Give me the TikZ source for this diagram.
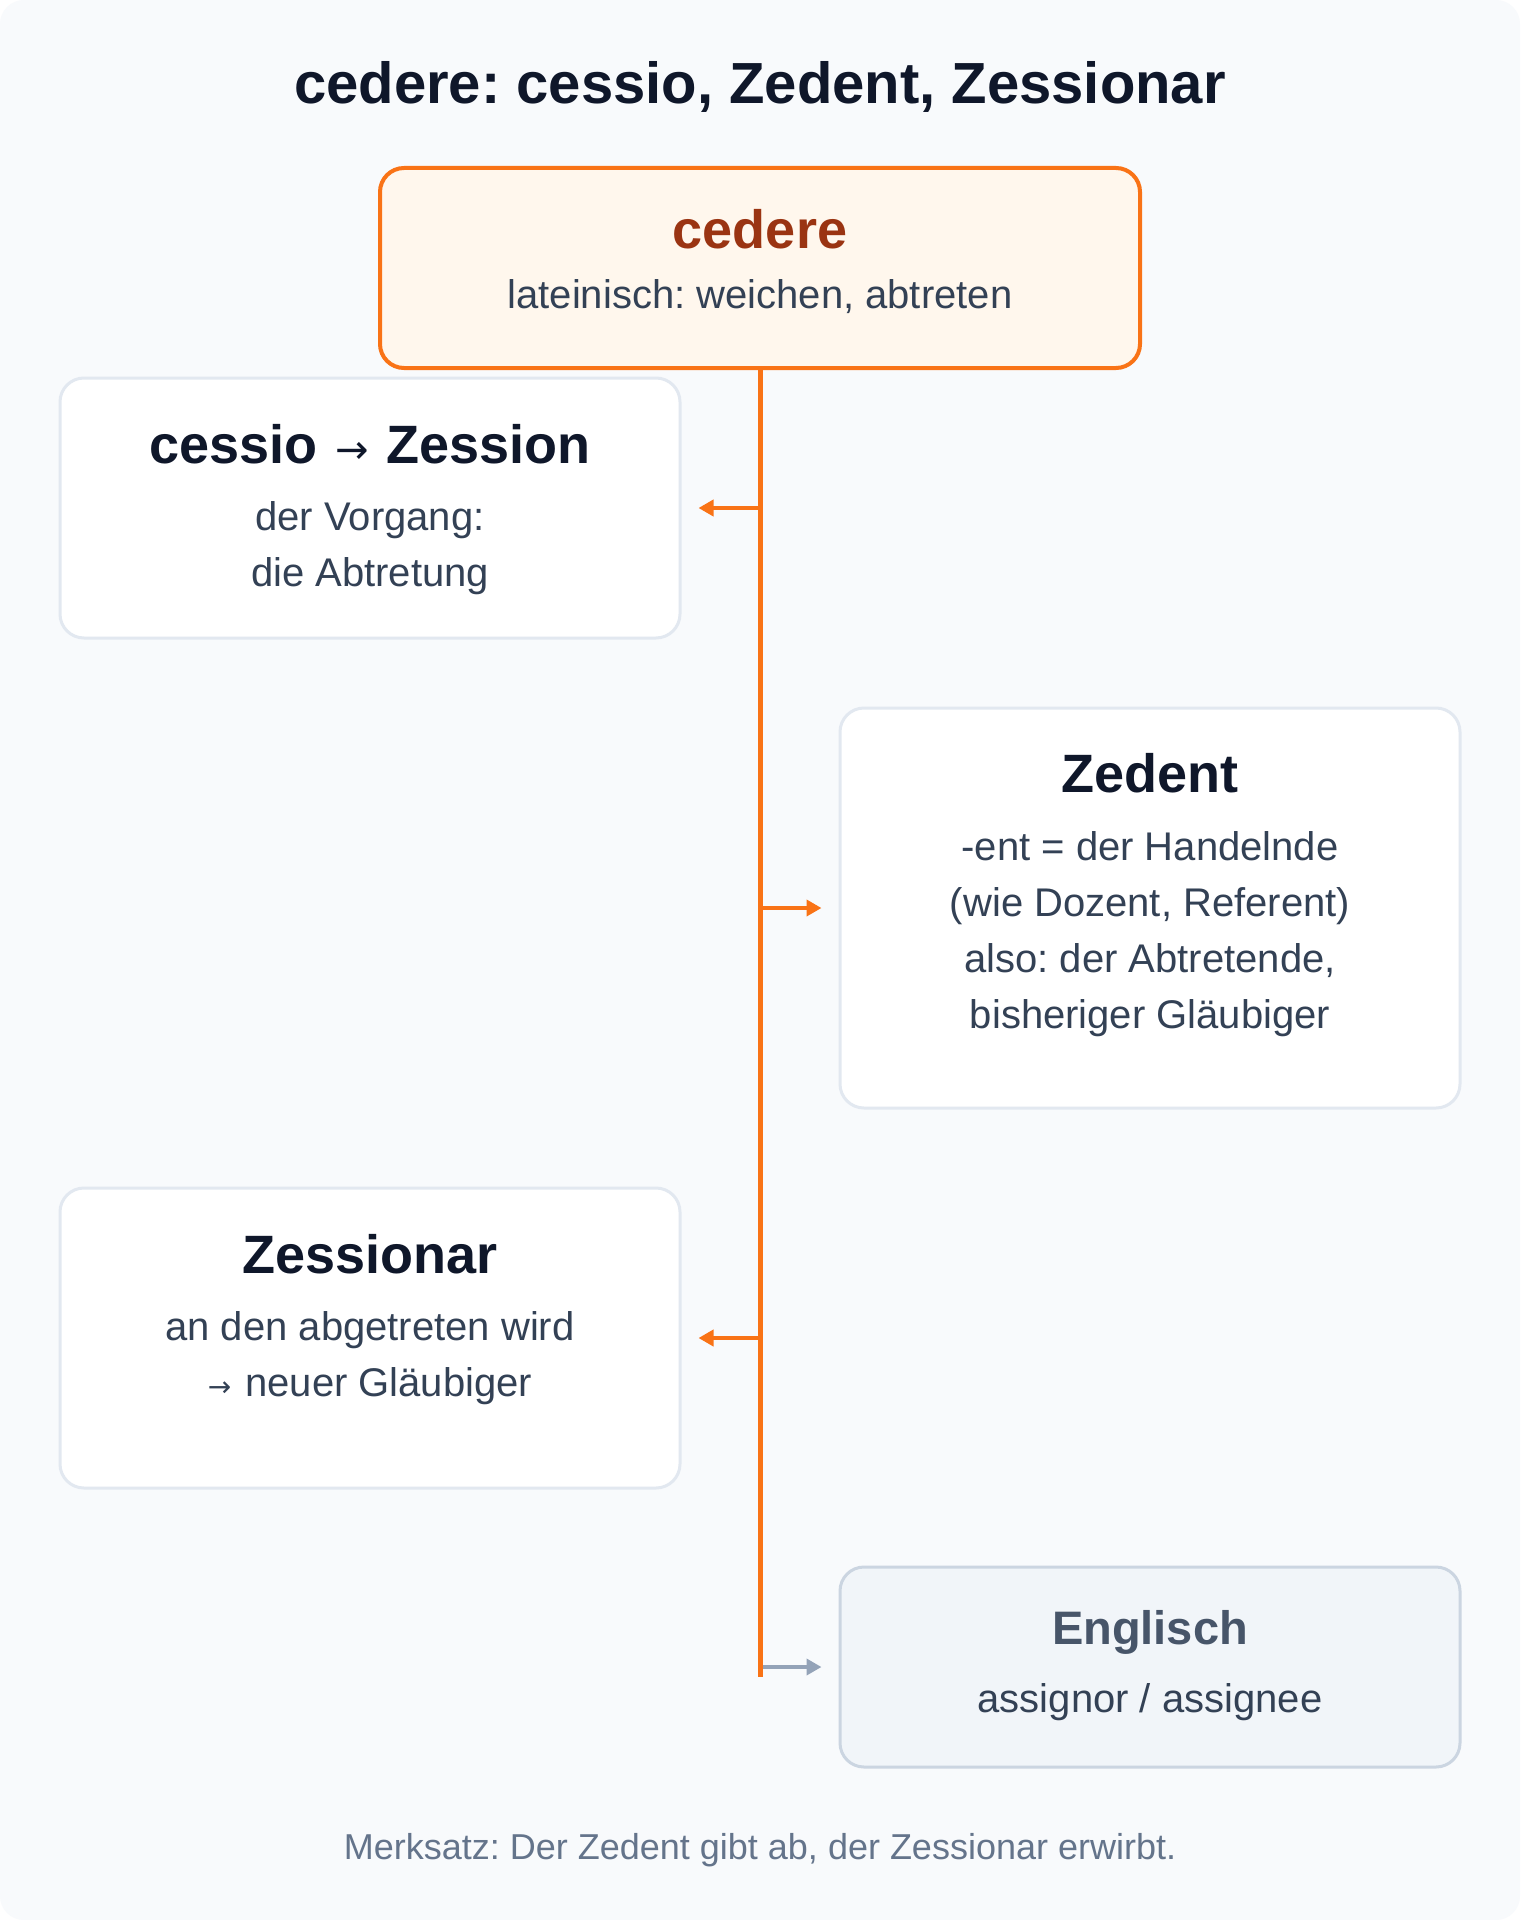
\documentclass[tikz,border=0pt]{standalone}
\usepackage{fontspec}
\setmainfont{Liberation Sans}
\newfontfamily\arrowfont{DejaVu Sans}
\usetikzlibrary{arrows.meta}
\frenchspacing
\definecolor{canvas}{HTML}{F8FAFC}
\definecolor{ink}{HTML}{0F172A}
\definecolor{bodytext}{HTML}{334155}
\definecolor{cardedge}{HTML}{E2E8F0}
\definecolor{accent}{HTML}{F97316}
\definecolor{accentbg}{HTML}{FFF7ED}
\definecolor{rust}{HTML}{9A3412}
\definecolor{slatebg}{HTML}{F1F5F9}
\definecolor{slateedge}{HTML}{CBD5E1}
\definecolor{slatehead}{HTML}{475569}
\definecolor{slatearrow}{HTML}{94A3B8}
\definecolor{muted}{HTML}{64748B}
\tikzset{
  card/.style={draw=cardedge, fill=white, line width=1.5pt, rounded corners=12pt, minimum width=310pt, inner sep=0pt},
  head/.style={anchor=base, text=ink, font=\fontsize{27}{32}\selectfont\bfseries},
  txt/.style={anchor=base, text=bodytext, font=\fontsize{20}{28}\selectfont},
  branch/.style={accent, line width=2pt, -{Triangle[length=7.5pt,width=8pt]}, shorten >=8.5pt},
}
\begin{document}
\begin{tikzpicture}[x=1pt,y=-1pt]
\fill[white] (0,0) rectangle (760,960);
\fill[canvas, rounded corners=12pt] (0,0) rectangle (760,960);
\useasboundingbox (0,0) rectangle (760,960);
\node[anchor=base, text=ink, font=\fontsize{29}{34}\selectfont\bfseries] (title) at (380,52) {cedere: cessio, Zedent, Zessionar};
% Wurzel
\node[card, draw=accent, fill=accentbg, line width=2pt, minimum width=380pt, minimum height=100pt] (cedere) at (380,134) {};
\node[head, text=rust] (cederehead) at (380,124.5) {cedere};
\node[txt] (cederetxt) at (380,154.5) {lateinisch: weichen, abtreten};
% cessio
\node[card, minimum height=130pt] (cessio) at (185,254) {};
\node[head] (cessiohead) at (185,231.5) {cessio\hspace{9pt}{\arrowfont\fontsize{20}{24}\selectfont\mdseries →}\hspace{9pt}Zession};
\node[txt] (cessiotxta) at (185,265) {der Vorgang:};
\node[txt] (cessiotxtb) at (185,293) {die Abtretung};
% Zedent
\node[card, minimum height=200pt] (zedent) at (575,454) {};
\node[head] (zedenthead) at (575,396) {Zedent};
\node[txt] (zedenttxta) at (575,430) {-ent = der Handelnde};
\node[txt] (zedenttxtb) at (575,458) {(wie Dozent, Referent)};
\node[txt] (zedenttxtc) at (575,486) {also: der Abtretende,};
\node[txt] (zedenttxtd) at (575,514) {bisheriger Gläubiger};
% Zessionar
\node[card, minimum height=150pt] (zessionar) at (185,669) {};
\node[head] (zessionarhead) at (185,636.5) {Zessionar};
\node[txt] (zessionartxta) at (185,670) {an den abgetreten wird};
\node[txt] (zessionartxtb) at (185,698) {{\arrowfont\fontsize{14}{16}\selectfont →}\hspace{7pt}neuer Gläubiger};
% Englisch
\node[card, draw=slateedge, fill=slatebg, minimum height=100pt] (englisch) at (575,833.5) {};
\node[head, text=slatehead, font=\fontsize{23.5}{28}\selectfont\bfseries] (englischhead) at (575,822) {Englisch};
\node[txt] (englischtxt) at (575,856) {assignor / assignee};
% Verbindungen
\coordinate (trunkend) at (380,838.5);
\draw[branch] (cessio.east -| cedere.south) -- (cessio.east);
\draw[branch] (zedent.west -| cedere.south) -- (zedent.west);
\draw[branch] (zessionar.east -| cedere.south) -- (zessionar.east);
\draw[branch, slatearrow] (englisch.west -| cedere.south) -- (englisch.west);
\draw[accent, line width=2.5pt] (cedere.south) -- (trunkend);
\node[anchor=base, text=muted, font=\fontsize{18}{22}\selectfont] (merksatz) at (380,929.5) {Merksatz: Der Zedent gibt ab, der Zessionar erwirbt.};
\end{tikzpicture}
\end{document}
